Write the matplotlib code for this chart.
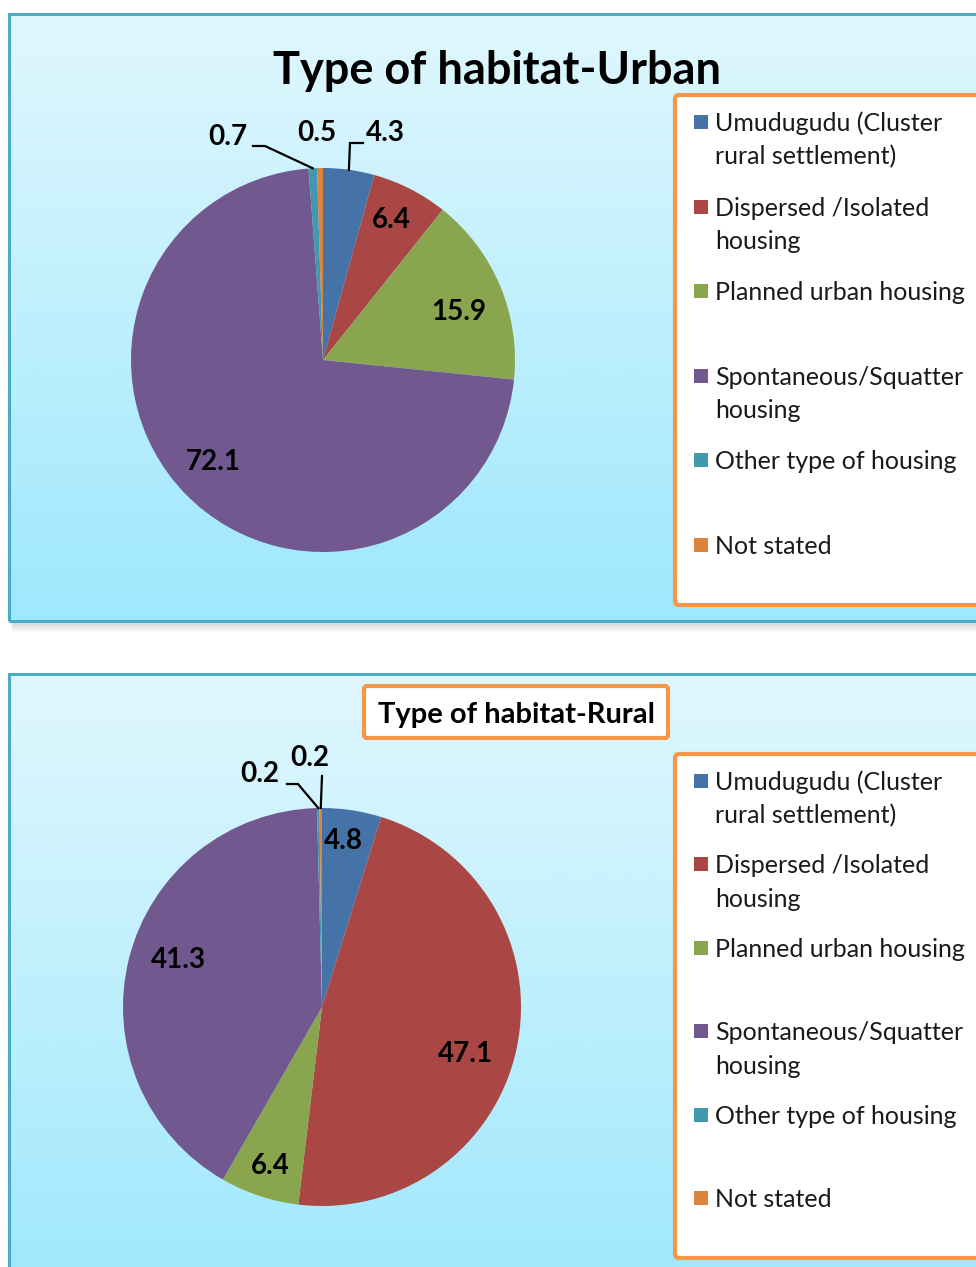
"""Urban / rural habitat type pie charts, Excel-2007 style."""

import matplotlib.pyplot as plt
import numpy as np
from matplotlib.colors import LinearSegmentedColormap
from matplotlib.patches import FancyBboxPatch, Rectangle

W, H = 976, 1267

categories = [
    'Umudugudu (Cluster\nrural settlement)',
    'Dispersed /Isolated\nhousing',
    'Planned urban housing',
    'Spontaneous/Squatter\nhousing',
    'Other type of housing',
    'Not stated',
]
urban = [4.3, 6.4, 15.9, 72.1, 0.7, 0.5]
rural = [4.8, 47.1, 6.4, 41.3, 0.2, 0.2]
colors = ['#4572A7', '#AA4643', '#89A54E', '#71588F', '#4198AF', '#DB843D']

ORANGE = '#F79646'
TEAL = '#4BACC6'

plt.rcParams['font.family'] = ['Lato', 'DejaVu Sans']

fig = plt.figure(figsize=(W / 100, H / 100), dpi=100)
ax = fig.add_axes([0, 0, 1, 1])


def Y(y):
    """Flip a top-down pixel row into data y."""
    return H - y


bg = LinearSegmentedColormap.from_list('bg', ['#E0F7FD', '#9EE8FD'])


def panel(top, bottom, shadow=True):
    g = np.linspace(0, 1, 256).reshape(-1, 1)
    ax.imshow(g, cmap=bg, extent=(9, W + 20, Y(bottom), Y(top)), aspect='auto', zorder=0)
    ax.add_patch(Rectangle((9, Y(bottom)), W + 20, bottom - top, fill=False, ec=TEAL, lw=2.2, zorder=1))
    if shadow:
        for i in range(9):
            ax.plot([12, W], [Y(bottom + 2 + i)] * 2, color='#808080', alpha=0.22 * (1 - i / 9), lw=1, zorder=0)


def legend(top, bottom):
    ax.add_patch(FancyBboxPatch((675, Y(bottom)), 330, bottom - top,
                                boxstyle='round,pad=0,rounding_size=4',
                                fc='white', ec=ORANGE, lw=3, zorder=2))
    step = (bottom - top - 87) / 5
    for i, (lab, c) in enumerate(zip(categories, colors)):
        y0 = top + 27 + i * step
        ax.add_patch(Rectangle((694, Y(y0) - 7), 14, 14, fc=c, ec='none', zorder=3))
        # one text per line so the first line stays level with the marker
        for k, line in enumerate(lab.split('\n')):
            ax.text(715, Y(y0 + 9 + 33.5 * k), line, ha='left', va='baseline', fontsize=18,
                    color='#1a1a1a', zorder=3)


def pie(values, cx, cy, r, frac, turn, outside):
    wedges, _ = ax.pie(values, colors=colors, startangle=90, counterclock=False,
                       center=(cx, Y(cy)), radius=r, wedgeprops=dict(linewidth=0))
    for w in wedges:
        w.set_zorder(2)
    for i, (w, v) in enumerate(zip(wedges, values)):
        ang = np.deg2rad((w.theta1 + w.theta2) / 2)
        if frac[i] is not None:
            a = ang + np.deg2rad(turn[i])
            ax.text(cx + frac[i] * r * np.cos(a), Y(cy) + frac[i] * r * np.sin(a), f'{v}',
                    ha='center', va='center', fontsize=20, fontweight='bold', zorder=4)
            continue
        (tx, ty), path = outside[i]
        ax.text(tx, Y(ty), f'{v}', ha='center', va='center', fontsize=20, fontweight='bold', zorder=4)
        if path:
            ex, ey = cx + r * np.cos(ang), Y(cy) + r * np.sin(ang)
            xs = [p[0] for p in path] + [ex]
            ys = [Y(p[1]) for p in path] + [ey]
            ax.plot(xs, ys, color='black', lw=1.6, zorder=4, solid_joinstyle='miter')


# top panel: urban
panel(14, 621)
ax.text(497, Y(84), 'Type of habitat-Urban', ha='center', va='baseline',
        fontsize=32.5, fontweight='bold', zorder=3)
pie(urban, 323, 360, 192, [None, 0.81, 0.75, 0.78, None, None], [0, 1, -3.4, -1.5, 0, 0],
    {0: ((385, 133), [(363, 143), (350, 143)]),
     4: ((228, 137), [(253, 146), (265, 146)]),
     5: ((317, 133), None)})
legend(95, 605)

# bottom panel: rural
panel(674, H + 30, shadow=False)
ax.add_patch(FancyBboxPatch((364, Y(738)), 304, 52, boxstyle='round,pad=0,rounding_size=3',
                            fc='white', ec=ORANGE, lw=3, zorder=2))
ax.text(516, Y(723), 'Type of habitat-Rural', ha='center', va='baseline',
        fontsize=21, fontweight='bold', zorder=3)
pie(rural, 322, 1007, 199, [0.84, 0.76, 0.84, 0.76, None, None], [1.4, -6, 0.4, -4, 0, 0],
    {4: ((260, 774), [(287, 784), (298, 784)]),
     5: ((310, 758), [(322, 776)])})
legend(754, 1258)

ax.set_xlim(0, W)
ax.set_ylim(0, H)
ax.axis('off')
fig.savefig('out.png', dpi=100)
